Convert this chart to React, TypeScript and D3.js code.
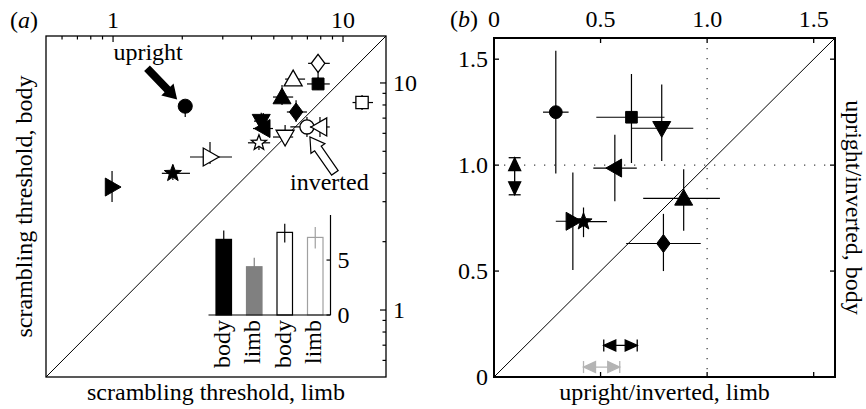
import React from 'react';
import * as d3 from 'd3';

// ---------- data ----------
const shapes = ['circle', 'triangleRight', 'star', 'triangleLeft', 'triangleDown', 'triangleUp', 'diamond', 'square'];

// panel (a): scrambling thresholds
const uprightLimb = [2.06, 0.99, 1.82, 4.5, 4.41, 5.43, 6.25, 7.79];
const uprightBody = [7.9, 3.48, 4.0, 6.3, 6.79, 8.67, 7.45, 9.9];
const uprightLimbLo = [2.0, null, 1.63, 4.06, 4.1, 4.96, 5.7, 6.97];
const uprightLimbHi = [2.12, null, 2.16, 4.96, 4.7, 6.07, 6.97, 8.76];
const uprightBodyLo = [7.08, 2.99, 3.74, 6.02, 6.2, 8.0, 6.73, 9.3];
const uprightBodyHi = [8.4, 4.09, 4.35, 7.37, 7.4, 9.8, 8.4, 10.6];

const invertedLimb = [6.97, 2.64, 4.31, 7.94, 5.6, 6.07, 7.79, 12.1];
const invertedBody = [6.4, 4.72, 5.45, 6.4, 5.78, 10.4, 12.2, 8.2];
const invertedLimbLo = [5.9, 2.16, 3.86, 7.18, 4.96, 5.6, 7.05, 11.0];
const invertedLimbHi = [8.2, 3.29, 4.82, 8.76, 6.07, 6.84, 8.76, 13.5];
const invertedBodyLo = [5.78, 4.4, 5.07, 5.78, 5.5, 10.0, 10.5, 7.6];
const invertedBodyHi = [7.08, 5.5, 5.78, 7.08, 6.53, 10.8, 13.3, 8.85];

const logTicks = [0.6, 0.7, 0.8, 0.9, 1, 2, 3, 4, 5, 6, 7, 8, 9, 10];
const logTickLabels = [1, 10];

// inset bars
const barLabels = ['body', 'limb', 'body', 'limb'];
const barValues = [6.88, 4.39, 7.52, 7.06];
const barErrLo = [6.1, 3.6, 6.6, 6.06];
const barErrHi = [7.7, 5.2, 8.3, 8.0];
const barTicks = [0, 5];

// panel (b): upright/inverted ratios
const ratioLimb = [0.29, 0.37, 0.42, 0.567, 0.787, 0.89, 0.795, 0.645];
const ratioBody = [1.25, 0.735, 0.733, 0.986, 1.174, 0.843, 0.63, 1.226];
const ratioLimbLo = [0.23, 0.29, 0.35, 0.466, 0.645, 0.70, 0.62, 0.48];
const ratioLimbHi = [0.35, 0.45, 0.53, 0.67, 0.935, 1.06, 0.97, 0.80];
const ratioBodyLo = [0.96, 0.505, 0.66, 0.83, 1.02, 0.69, 0.50, 1.01];
const ratioBodyHi = [1.54, 0.965, 0.80, 1.143, 1.38, 0.98, 0.77, 1.43];
const linTicks = [0, 0.5, 1.0, 1.5];
const linTickLabels = ['0', '0.5', '1.0', '1.5'];

// summary arrows in (b)
const vArrowX = 0.097;
const vArrowY = [0.86, 1.035];
const hArrowBlackY = 0.149;
const hArrowBlackX = [0.515, 0.672];
const hArrowGrayY = 0.047;
const hArrowGrayX = [0.42, 0.59];

// annotation arrows in (a) (data coords)
const uprightArrow = { tail: [1.405, 11.6], tip: [1.9, 8.45] };
const invertedArrow = { tail: [9.22, 4.02], tip: [7.18, 5.78] };
const uprightText = [1.42, 12.6];
const invertedText = [8.72, 3.38];

// ---------- helpers ----------
const FONT = '"Liberation Serif", "Times New Roman", serif';
const FS = 24;

function markerD(shape: string, k: number): string {
  switch (shape) {
    case 'triangleUp': return `M0,${-k}L${k},${0.75 * k}L${-k},${0.75 * k}Z`;
    case 'triangleDown': return `M0,${k}L${k},${-0.75 * k}L${-k},${-0.75 * k}Z`;
    case 'triangleRight': return `M${k},0L${-0.75 * k},${-k}L${-0.75 * k},${k}Z`;
    case 'triangleLeft': return `M${-k},0L${0.75 * k},${-k}L${0.75 * k},${k}Z`;
    case 'diamond': return `M0,${-k}L${0.75 * k},0L0,${k}L${-0.75 * k},0Z`;
    case 'square': { const h = k * 0.7; return `M${-h},${-h}L${h},${-h}L${h},${h}L${-h},${h}Z`; }
    case 'circle': { const r = k * 0.8; return `M${r},0A${r},${r} 0 1,1 ${-r},0A${r},${r} 0 1,1 ${r},0Z`; }
    case 'star': {
      const pts: string[] = [];
      for (let i = 0; i < 10; i++) {
        const a = -Math.PI / 2 + (i * Math.PI) / 5;
        const r = i % 2 === 0 ? k : k * 0.42;
        pts.push(`${(r * Math.cos(a)).toFixed(2)},${(r * Math.sin(a)).toFixed(2)}`);
      }
      return 'M' + pts.join('L') + 'Z';
    }
  }
  return '';
}

function arrowPoly(x1: number, y1: number, x2: number, y2: number, sw: number, hw: number, hl: number) {
  const dx = x2 - x1, dy = y2 - y1;
  const len = Math.hypot(dx, dy);
  const ux = dx / len, uy = dy / len;
  const nx = -uy, ny = ux;
  const bx = x2 - ux * hl, by = y2 - uy * hl;
  const p = [
    [x1 + nx * sw / 2, y1 + ny * sw / 2],
    [bx + nx * sw / 2, by + ny * sw / 2],
    [bx + nx * hw / 2, by + ny * hw / 2],
    [x2, y2],
    [bx - nx * hw / 2, by - ny * hw / 2],
    [bx - nx * sw / 2, by - ny * sw / 2],
    [x1 - nx * sw / 2, y1 - ny * sw / 2],
  ];
  return p.map(q => q.join(',')).join(' ');
}

export default function App() {
  // panel (a) scales
  const xA = d3.scaleLog().domain([0.511, 15.38]).range([46, 386]);
  const yA = d3.scaleLog().domain([0.507, 16.1]).range([377, 36]);
  const [ax0, ax1] = xA.range();
  const [ay1, ay0] = yA.range();

  // inset
  const xBar = d3.scalePoint<number>().domain(d3.range(barValues.length)).range([208.5, 330.5]).padding(0.5);
  const yBar = d3.scaleLinear().domain([0, 9.1]).range([315, 215]);
  const barW = 15.5;
  const barFill = ['#000', '#808080', '#fff', '#fff'];
  const barStroke = ['#000', '#808080', '#000', '#a0a0a0'];
  const barErr = ['#000', '#808080', '#000', '#a0a0a0'];

  // panel (b) scales
  const xB = d3.scaleLinear().domain([0, 1.6]).range([494, 835]);
  const yB = d3.scaleLinear().domain([0, 1.6]).range([377, 38]);
  const [bx0, bx1] = xB.range();
  const [by1, by0] = yB.range();

  const errA = (xs: number[], ys: number[], xl: any[], xh: any[], yl: any[], yh: any[], key: string) =>
    xs.map((x, i) => (
      <g key={key + i} stroke="#000" strokeWidth={1.2}>
        {xl[i] != null && <line x1={xA(xl[i])} x2={xA(xh[i])} y1={yA(ys[i])} y2={yA(ys[i])} />}
        {yl[i] != null && <line x1={xA(x)} x2={xA(x)} y1={yA(yl[i])} y2={yA(yh[i])} />}
      </g>
    ));

  const markSize = (s: string, open: boolean) => {
    if (s === 'star') return open ? 8 : 9;
    if (s === 'circle') return 8.8;
    if (s === 'square') return open ? 8.8 : 8.5;
    return 9;
  };

  const uh = xA(uprightArrow.tail[0]);
  return (
    <svg width={866} height={409} style={{ position: 'absolute', left: 0, top: 0, background: '#fff' }}
      fontFamily={FONT} fontSize={FS}>
      {/* ================= panel (a) ================= */}
      <text x={10} y={28}>(<tspan fontStyle="italic">a</tspan>)</text>
      <rect x={ax0} y={ay0} width={ax1 - ax0} height={ay1 - ay0} fill="none" stroke="#000" strokeWidth={1.3} />
      {/* top ticks */}
      {logTicks.map((t, i) => {
        const major = logTickLabels.includes(t);
        return <line key={'tt' + i} x1={xA(t)} x2={xA(t)} y1={ay0} y2={ay0 + (major ? 6 : 3.5)} stroke="#000" strokeWidth={1.2} />;
      })}
      {logTickLabels.map(t => (
        <text key={'tl' + t} x={xA(t)} y={28} textAnchor="middle">{t}</text>
      ))}
      {/* right ticks */}
      {logTicks.map((t, i) => {
        const major = logTickLabels.includes(t);
        return <line key={'rt' + i} x1={ax1} x2={ax1 - (major ? 6 : 3.5)} y1={yA(t)} y2={yA(t)} stroke="#000" strokeWidth={1.2} />;
      })}
      {logTickLabels.map(t => (
        <text key={'rl' + t} x={ax1 + 7} y={yA(t) + 8}>{t}</text>
      ))}
      {/* diagonal */}
      <line x1={xA(xA.domain()[0])} y1={yA(yA.domain()[0])} x2={xA(xA.domain()[1])} y2={yA(yA.domain()[1])} stroke="#000" strokeWidth={1} />
      {/* axis titles */}
      <text transform={`translate(32,${(ay0 + ay1) / 2}) rotate(-90)`} textAnchor="middle">scrambling threshold, body</text>
      <text x={(ax0 + ax1) / 2} y={400} textAnchor="middle">scrambling threshold, limb</text>

      {/* inverted points */}
      {invertedLimb.map((x, i) => (
        <g key={'inv' + i}>
          {errA([x], [invertedBody[i]], [invertedLimbLo[i]], [invertedLimbHi[i]], [invertedBodyLo[i]], [invertedBodyHi[i]], 'ie' + i)}
          <path d={markerD(shapes[i], markSize(shapes[i], true))} transform={`translate(${xA(x)},${yA(invertedBody[i])})`}
            fill="#fff" stroke="#000" strokeWidth={1.3} />
        </g>
      ))}
      {/* upright points */}
      {uprightLimb.map((x, i) => (
        <g key={'up' + i}>
          {errA([x], [uprightBody[i]], [uprightLimbLo[i]], [uprightLimbHi[i]], [uprightBodyLo[i]], [uprightBodyHi[i]], 'ue' + i)}
          <path d={markerD(shapes[i], markSize(shapes[i], false))} transform={`translate(${xA(x)},${yA(uprightBody[i])})`}
            fill="#000" stroke="#000" strokeWidth={1} />
        </g>
      ))}

      {/* annotation arrows */}
      <polygon points={arrowPoly(uh, yA(uprightArrow.tail[1]), xA(uprightArrow.tip[0]), yA(uprightArrow.tip[1]), 8, 17, 14)} fill="#000" />
      <text x={xA(uprightText[0])} y={yA(uprightText[1])} textAnchor="middle">upright</text>
      <polygon points={arrowPoly(xA(invertedArrow.tail[0]), yA(invertedArrow.tail[1]), xA(invertedArrow.tip[0]), yA(invertedArrow.tip[1]), 8, 17, 14)}
        fill="#fff" stroke="#000" strokeWidth={1.2} strokeLinejoin="miter" />
      <text x={xA(invertedText[0])} y={yA(invertedText[1])} textAnchor="middle">inverted</text>

      {/* inset bar chart */}
      {barValues.map((v, i) => {
        const cx = xBar(i)!;
        return (
          <g key={'bar' + i}>
            <rect x={cx - barW / 2} y={yBar(v)} width={barW} height={yBar(0) - yBar(v)}
              fill={barFill[i]} stroke={barStroke[i]} strokeWidth={1.2} />
            <line x1={cx} x2={cx} y1={yBar(barErrLo[i])} y2={yBar(barErrHi[i])} stroke={barErr[i]} strokeWidth={1.2} />
            <text transform={`translate(${cx + 6},320) rotate(-90)`} textAnchor="end">{barLabels[i]}</text>
          </g>
        );
      })}
      <line x1={xBar.range()[0]} x2={xBar.range()[1]} y1={yBar(0)} y2={yBar(0)} stroke="#000" strokeWidth={1.2} />
      <line x1={xBar.range()[1]} x2={xBar.range()[1]} y1={yBar(0)} y2={yBar(yBar.domain()[1])} stroke="#000" strokeWidth={1.2} />
      {barTicks.map(t => (
        <g key={'bt' + t}>
          <line x1={xBar.range()[1]} x2={xBar.range()[1] - 4} y1={yBar(t)} y2={yBar(t)} stroke="#000" strokeWidth={1.2} />
          <text x={xBar.range()[1] + 7} y={yBar(t) + 8}>{t}</text>
        </g>
      ))}

      {/* ================= panel (b) ================= */}
      <text x={450} y={27}>(<tspan fontStyle="italic">b</tspan>)</text>
      <line x1={xB(1)} x2={xB(1)} y1={by0} y2={by1} stroke="#444" strokeWidth={1.3} strokeDasharray="1.3,8.7" />
      <line x1={bx0} x2={bx1} y1={yB(1)} y2={yB(1)} stroke="#444" strokeWidth={1.3} strokeDasharray="1.3,8.7" />
      <line x1={xB(0)} y1={yB(0)} x2={xB(1.6)} y2={yB(1.6)} stroke="#000" strokeWidth={1} />
      <rect x={bx0} y={by0} width={bx1 - bx0} height={by1 - by0} fill="none" stroke="#000" strokeWidth={2} />
      {linTicks.map((t, i) => (
        <g key={'lt' + i} stroke="#000" strokeWidth={1.3}>
          <line x1={xB(t)} x2={xB(t)} y1={by0} y2={by0 + 5} />
          <line x1={xB(t)} x2={xB(t)} y1={by1} y2={by1 - 5} />
          <line x1={bx0} x2={bx0 + 5} y1={yB(t)} y2={yB(t)} />
          <line x1={bx1} x2={bx1 - 5} y1={yB(t)} y2={yB(t)} />
        </g>
      ))}
      {linTicks.map((t, i) => (
        <text key={'xl' + i} x={xB(t)} y={27} textAnchor="middle">{linTickLabels[i]}</text>
      ))}
      {linTicks.map((t, i) => (
        <text key={'yl' + i} x={bx0 - 6} y={yB(t) + 8} textAnchor="end">{linTickLabels[i]}</text>
      ))}
      <text transform={`translate(846,${(by0 + by1) / 2}) rotate(90)`} textAnchor="middle">upright/inverted, body</text>
      <text x={(bx0 + bx1) / 2} y={400} textAnchor="middle">upright/inverted, limb</text>

      {ratioLimb.map((x, i) => (
        <g key={'r' + i}>
          <line x1={xB(ratioLimbLo[i])} x2={xB(ratioLimbHi[i])} y1={yB(ratioBody[i])} y2={yB(ratioBody[i])} stroke="#000" strokeWidth={1.2} />
          <line x1={xB(x)} x2={xB(x)} y1={yB(ratioBodyLo[i])} y2={yB(ratioBodyHi[i])} stroke="#000" strokeWidth={1.2} />
          <path d={markerD(shapes[i], shapes[i] === 'circle' ? 8 : shapes[i] === 'square' ? 8.3 : 9)}
            transform={`translate(${xB(x)},${yB(ratioBody[i])})`} fill="#000" stroke="#000" strokeWidth={1} />
        </g>
      ))}

      {/* vertical summary arrow */}
      {(() => {
        const x = xB(vArrowX), ya = yB(vArrowY[1]), yb = yB(vArrowY[0]);
        return (
          <g stroke="#000" strokeWidth={1.3}>
            <line x1={x} x2={x} y1={ya} y2={yb} />
            <line x1={x - 6} x2={x + 6} y1={ya} y2={ya} />
            <line x1={x - 6} x2={x + 6} y1={yb} y2={yb} />
            <path d={`M${x},${ya}L${x + 6},${ya + 13}L${x - 6},${ya + 13}Z`} fill="#000" />
            <path d={`M${x},${yb}L${x + 6},${yb - 13}L${x - 6},${yb - 13}Z`} fill="#000" />
          </g>
        );
      })()}
      {[{ y: hArrowBlackY, xs: hArrowBlackX, c: '#000' }, { y: hArrowGrayY, xs: hArrowGrayX, c: '#b4b4b4' }].map((a, j) => {
        const y = yB(a.y), xa = xB(a.xs[0]), xb = xB(a.xs[1]);
        return (
          <g key={'ha' + j} stroke={a.c} fill={a.c} strokeWidth={1.3}>
            <line x1={xa} x2={xb} y1={y} y2={y} />
            <line x1={xa} x2={xa} y1={y - 6} y2={y + 6} />
            <line x1={xb} x2={xb} y1={y - 6} y2={y + 6} />
            <path d={`M${xa},${y}L${xa + 12},${y - 5.5}L${xa + 12},${y + 5.5}Z`} />
            <path d={`M${xb},${y}L${xb - 12},${y - 5.5}L${xb - 12},${y + 5.5}Z`} />
          </g>
        );
      })}
    </svg>
  );
}
